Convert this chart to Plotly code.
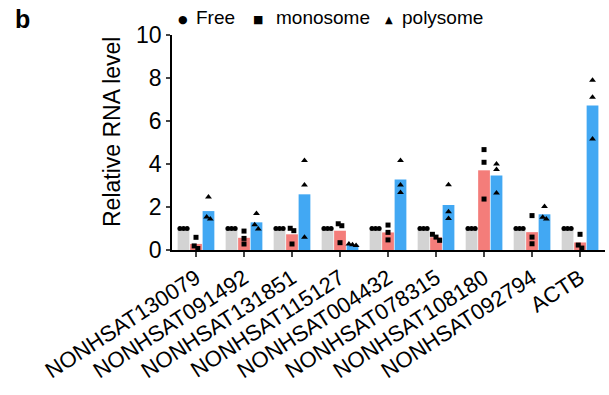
import plotly.graph_objects as go

categories = ["NONHSAT130079", "NONHSAT091492", "NONHSAT131851", "NONHSAT115127",
              "NONHSAT004432", "NONHSAT078315", "NONHSAT108180", "NONHSAT092794", "ACTB"]

free_pts = [[1.0, 1.0, 1.0] for _ in categories]
mono_pts = [
    [0.59, 0.19, 0.07],
    [0.88, 0.54, 0.28],
    [1.01, 0.90, 0.28],
    [1.22, 1.13, 0.34],
    [1.16, 0.82, 0.47],
    [0.73, 0.60, 0.45],
    [4.67, 4.08, 2.37],
    [1.60, 0.60, 0.29],
    [0.73, 0.23, 0.09],
]
poly_pts = [
    [2.46, 1.53, 1.44],
    [1.70, 1.18, 0.98],
    [4.16, 3.02, 0.59],
    [0.28, 0.24, 0.21],
    [4.16, 3.02, 2.67],
    [3.04, 1.78, 1.46],
    [4.00, 3.75, 2.65],
    [2.02, 1.52, 1.44],
    [7.89, 7.10, 5.16],
]
series_names = ["Free", "monosome", "polysome"]
y_ticks = [0, 2, 4, 6, 8, 10]

colors = ["#d3d3d3", "#f47d7a", "#42a8f3"]
symbols = ["circle", "square", "triangle-up"]
msizes = [5, 5, 6]
offsets = [-0.26, 0.0, 0.26]
bar_w = 0.245

# plot geometry in pixels
W, H = 609, 395
L, R, T, B = 172, 4, 35, 145
pw, ph = W - L - R, H - T - B


def px2x(px):
    return (px - L) / pw


def px2y(py):
    return (H - B - py) / ph


def swarm(vals, thresh=0.22, step=0.075):
    n = len(vals)
    offs = [0.0] * n
    order = sorted(range(n), key=lambda i: -vals[i])
    clusters = []
    for i in order:
        if clusters and vals[clusters[-1][-1]] - vals[i] < thresh:
            clusters[-1].append(i)
        else:
            clusters.append([i])
    for c in clusters:
        k = len(c)
        for j, i in enumerate(c):
            offs[i] = (j - (k - 1) / 2) * step
    return offs


fig = go.Figure()
all_series = [free_pts, mono_pts, poly_pts]
xs = list(range(len(categories)))

for s, pts in enumerate(all_series):
    means = [sum(p) / len(p) for p in pts]
    fig.add_trace(go.Bar(
        x=xs, y=means, name=series_names[s], width=bar_w, offset=offsets[s] - bar_w / 2,
        marker=dict(color=colors[s], line=dict(width=0)), showlegend=False,
    ))

for s, pts in enumerate(all_series):
    px_, py_ = [], []
    for i, p in enumerate(pts):
        offs = swarm(p)
        for v, o in zip(p, offs):
            px_.append(i + offsets[s] + o)
            py_.append(v)
    fig.add_trace(go.Scatter(
        x=px_, y=py_, mode="markers", name=series_names[s], showlegend=False, cliponaxis=False,
        marker=dict(symbol=symbols[s], color="black", size=msizes[s], line=dict(width=0)),
    ))

font_family = "Liberation Sans, Arial, sans-serif"

fig.update_layout(
    width=W, height=H,
    margin=dict(l=L, r=R, t=T, b=B, autoexpand=False),
    plot_bgcolor="white", paper_bgcolor="white",
    font=dict(family=font_family, color="black"),
    barmode="overlay",
    xaxis=dict(
        range=[-0.5, 8.52], tickmode="array", tickvals=xs, ticktext=categories,
        tickangle=-33, tickfont=dict(size=22), ticks="outside", ticklen=5, tickwidth=1.5,
        showline=True, linecolor="black", linewidth=1.5, showgrid=False, zeroline=False,
        automargin=False,
    ),
    yaxis=dict(
        range=[0, 10], tickvals=y_ticks, tickfont=dict(size=23), ticks="outside", ticklen=4,
        tickwidth=1.5, showline=True, linecolor="black", linewidth=1.5, showgrid=False,
        zeroline=False, automargin=False, ticklabelstandoff=0,
    ),
)

ann = []
ann.append(dict(text="Relative RNA level", textangle=-90, x=px2x(112), y=px2y(132),
                xanchor="center", yanchor="middle",
                xref="paper", yref="paper", showarrow=False, font=dict(size=23)))
ann.append(dict(text="<b>b</b>", x=px2x(13), y=px2y(19), xref="paper", yref="paper",
                xanchor="left", yanchor="middle", showarrow=False, font=dict(size=25)))
legend_items = [("●", 183, "Free", 194, 11), ("■", 258, "monosome", 274, 11), ("▲", 389, "polysome", 400, 10)]
for sym, sx, txt, tx, ssz in legend_items:
    ann.append(dict(text=sym, x=px2x(sx), y=px2y(19), xref="paper", yref="paper",
                    xanchor="center", yanchor="middle",
                    showarrow=False, font=dict(size=ssz, family="DejaVu Sans")))
    ann.append(dict(text=txt, x=px2x(tx), y=px2y(18), xref="paper", yref="paper",
                    xanchor="left", yanchor="middle", showarrow=False, font=dict(size=19)))
fig.update_layout(annotations=ann)

fig.write_html("out.html", config={"displayModeBar": False},
               post_script="document.body.style.margin='0px';")
